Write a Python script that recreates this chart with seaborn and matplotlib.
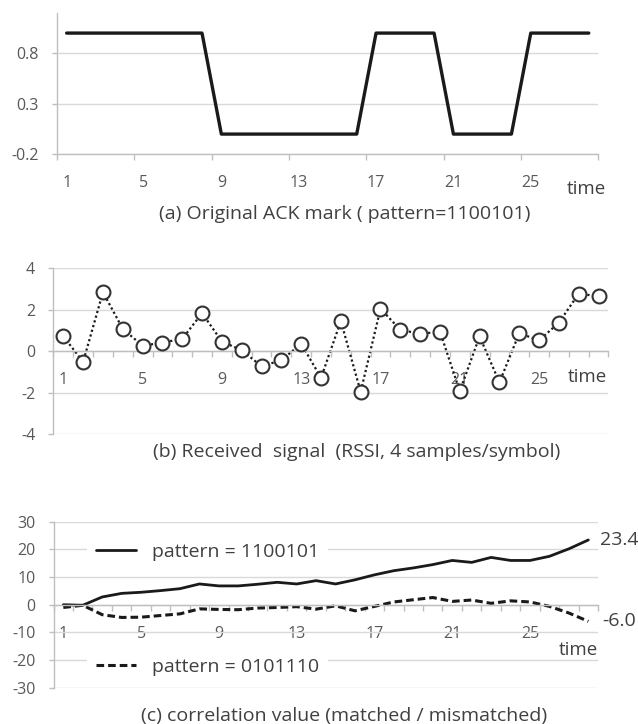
import numpy as np
import pandas as pd
import matplotlib.pyplot as plt
import seaborn as sns

sns.set_style("whitegrid")
plt.rcParams['font.family'] = ['Open Sans', 'DejaVu Sans']
plt.rcParams['axes.unicode_minus'] = False

# data
time = [1, 2, 3, 4, 5, 6, 7, 8, 9, 10, 11, 12, 13, 14,
        15, 16, 17, 18, 19, 20, 21, 22, 23, 24, 25, 26, 27, 28]
time_ticks = [1, 5, 9, 13, 17, 21, 25]

ack_mark = [1, 1, 1, 1, 1, 1, 1, 1, 0, 0, 0, 0, 0, 0,
            0, 0, 1, 1, 1, 1, 0, 0, 0, 0, 1, 1, 1, 1]

rssi = [0.72, -0.51, 2.85, 1.08, 0.27, 0.42, 0.6, 1.84, 0.47, 0.05, -0.72, -0.43, 0.37, -1.28,
        1.46, -1.95, 2.05, 1.04, 0.84, 0.95, -1.92, 0.72, -1.5, 0.87, 0.53, 1.38, 2.78, 2.65]

corr_match = [0.0, -0.2, 2.8, 4.1, 4.5, 5.1, 5.8, 7.5, 6.8, 6.8, 7.4, 8.1, 7.5, 8.7,
              7.5, 9.0, 10.8, 12.3, 13.3, 14.5, 16.0, 15.3, 17.1, 16.0, 16.0, 17.5, 20.2, 23.4]
corr_mismatch = [-1.0, -0.2, -3.6, -4.6, -4.5, -3.9, -3.3, -1.5, -1.7, -1.8, -1.2, -1.0, -0.7, -1.6,
                 -0.4, -2.2, -0.6, 1.0, 1.8, 2.6, 1.2, 1.7, 0.5, 1.4, 1.0, -0.6, -3.0, -6.0]

label_match = "pattern = 1100101"
label_mismatch = "pattern = 0101110"

grid_col = "#d9d9d9"
axis_col = "#bfbfbf"
text_col = "#404040"
tick_col = "#595959"


def style_axis(ax, minor_x, yticks, zero_axis):
    sns.despine(ax=ax, top=True, right=True)
    ax.spines['left'].set_color(axis_col)
    ax.spines['bottom'].set_color(axis_col)
    ax.spines['left'].set_linewidth(1.0)
    ax.spines['bottom'].set_linewidth(1.0)
    if zero_axis:
        ax.spines['bottom'].set_position(('data', 0))
    ax.grid(False)
    ax.yaxis.grid(True, color=grid_col, linewidth=1.0)
    ax.set_xlim(0.5, 28.5)
    ax.set_xticks(time_ticks)
    ax.set_xticklabels([str(t) for t in time_ticks])
    ax.set_xticks(minor_x, minor=True)
    ax.set_yticks(yticks)
    ax.tick_params(axis='x', which='both', bottom=True)
    ax.tick_params(axis='y', which='both', left=True)
    ax.tick_params(axis='x', which='major', length=0, pad=15, labelsize=11.5, labelcolor=tick_col)
    ax.tick_params(axis='x', which='minor', length=4, width=1.0, color=axis_col, direction='out')
    ax.tick_params(axis='y', length=3.6, width=1.0, color=axis_col, pad=9.5,
                   labelsize=11.5, labelcolor=tick_col)
    ax.set_xlabel("")
    ax.set_ylabel("")


fig = plt.figure(figsize=(6.38, 7.24), dpi=100)

# (a) original ACK mark
ax_a = fig.add_axes([0.0893, 0.7869, 0.8487, 0.1953])
sns.lineplot(x=time, y=ack_mark, ax=ax_a, color="#1a1a1a", linewidth=2.4)
ax_a.set_ylim(-0.2, 1.2)
style_axis(ax_a, np.arange(0.5, 29, 4), [-0.2, 0.3, 0.8], False)
ax_a.set_yticklabels(["-0.2", "0.3", "0.8"])
ax_a.annotate("time", xy=(28.5, -0.2), xycoords='data', xytext=(-12, -35),
              textcoords='offset pixels', ha='center', va='center', fontsize=13.5, color=text_col)
fig.text(0.541, 0.7044, "(a) Original ACK mark ( pattern=1100101)",
         ha='center', va='center', fontsize=14, color=text_col)

# (b) received signal
ax_b = fig.add_axes([0.0837, 0.4001, 0.870, 0.2293])
sns.lineplot(x=time, y=rssi, ax=ax_b, color="#1a1a1a", linewidth=1.6, linestyle=(0, (1, 1.2)))
sns.scatterplot(x=time, y=rssi, ax=ax_b, s=100, color="white", edgecolor="#333333",
                linewidth=1.5, zorder=3)
ax_b.set_ylim(-4, 4)
style_axis(ax_b, np.arange(0.5, 29, 1), [-4, -2, 0, 2, 4], True)
ax_b.annotate("time", xy=(28.5, 0), xycoords='data', xytext=(-21, -26),
              textcoords='offset pixels', ha='center', va='center', fontsize=13.5, color=text_col)
fig.text(0.559, 0.376, "(b) Received  signal  (RSSI, 4 samples/symbol)",
         ha='center', va='center', fontsize=14, color=text_col)

# (c) correlation value
ax_c = fig.add_axes([0.0840, 0.0501, 0.8534, 0.2293])
sns.lineplot(x=time, y=corr_match, ax=ax_c, color="#1a1a1a", linewidth=2.0, label=label_match)
sns.lineplot(x=time, y=corr_mismatch, ax=ax_c, color="#1a1a1a", linewidth=2.2,
             linestyle=(0, (2.5, 1.3)), label=label_mismatch)
ax_c.set_ylim(-30, 30)
style_axis(ax_c, np.arange(0.5, 29, 1), [-30, -20, -10, 0, 10, 20, 30], True)

handles, labels = ax_c.get_legend_handles_labels()
ax_c.get_legend().remove()
leg1 = ax_c.legend([handles[0]], [labels[0]], loc='center left', bbox_to_anchor=(0.061, 0.819),
                   frameon=True, facecolor='white', edgecolor='none', framealpha=1, fancybox=False,
                   fontsize=14, handlelength=2.1, handletextpad=0.8, borderpad=0.45,
                   borderaxespad=0, labelcolor=text_col)
ax_c.add_artist(leg1)
ax_c.legend([handles[1]], [labels[1]], loc='center left', bbox_to_anchor=(0.061, 0.127),
            frameon=True, facecolor='white', edgecolor='none', framealpha=1, fancybox=False,
            fontsize=14, handlelength=2.1, handletextpad=0.8, borderpad=0.45,
            borderaxespad=0, labelcolor=text_col)

ax_c.annotate(f"{corr_match[-1]:.1f}", xy=(time[-1], corr_match[-1]), xytext=(12, 0),
              textcoords='offset pixels', ha='left', va='center', fontsize=14, color=text_col,
              annotation_clip=False)
ax_c.annotate(f"{corr_mismatch[-1]:.1f}", xy=(time[-1], corr_mismatch[-1]), xytext=(14, 0),
              textcoords='offset pixels', ha='left', va='center', fontsize=14, color=text_col,
              annotation_clip=False)
ax_c.annotate("time", xy=(28.5, 0), xycoords='data', xytext=(-20, -45),
              textcoords='offset pixels', ha='center', va='center', fontsize=13.5, color=text_col)
fig.text(0.540, 0.011, "(c) correlation value (matched / mismatched)",
         ha='center', va='center', fontsize=14, color=text_col)

fig.savefig("out.png", dpi=100)
